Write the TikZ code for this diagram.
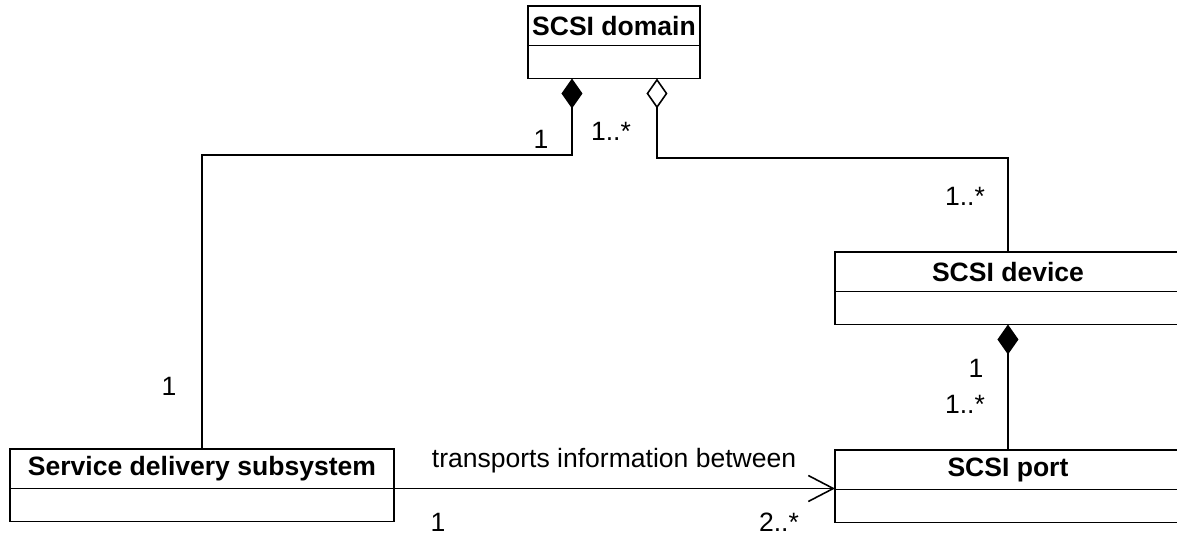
\documentclass[tikz,border=0pt]{standalone}
\usepackage{fontspec}
\setmainfont{Liberation Sans}
\usetikzlibrary{calc, arrows.meta, positioning}

\begin{document}
\begin{tikzpicture}[x=0.02cm, y=-0.02cm, line width=0.9pt,
        font=\fontsize{15.1}{18}\selectfont,
        classname/.style={draw, anchor=north west, outer sep=0pt, inner sep=0pt,
            minimum height=0.79cm, font=\fontsize{15.1}{18}\selectfont\bfseries},
        classbody/.style={draw, outer sep=0pt, inner sep=0pt, minimum height=0.66cm},
        composition/.style={{Diamond[length=0.6cm, width=0.42cm]}-},
        aggregation/.style={{Diamond[open, length=0.6cm, width=0.42cm]}-},
        association/.style={-{Straight Barb[length=0.5cm, width=0.52cm]}},
        mult/.style={anchor=base, inner sep=0pt}]
        \useasboundingbox (0,0) rectangle (1177,535);
        \clip (0,0) rectangle (1177,535);

        \node[classname, minimum width=3.44cm] (domain) at (528,6) {SCSI domain};
        \node[classbody, minimum width=3.44cm, below=0pt of domain] (domainBody) {};

        \node[classname, minimum width=6.92cm] (device) at (835,252) {SCSI device};
        \node[classbody, minimum width=6.92cm, below=0pt of device] (deviceBody) {};

        \node[classname, minimum width=7.68cm] (service) at (10,449) {Service delivery subsystem};
        \node[classbody, minimum width=7.68cm, below=0pt of service] (serviceBody) {};

        \node[classname, minimum width=6.92cm] (port) at (835,450) {SCSI port};
        \node[classbody, minimum width=6.92cm, below=0pt of port] (portBody) {};

        \coordinate (cCompPt) at ($(domainBody.south)+(-42,0)$);
        \coordinate (cAggrPt) at ($(domainBody.south)+(43,0)$);
        \coordinate (cLevelLPt) at (0,155);
        \coordinate (cLevelRPt) at (0,158);

        \draw[composition] (cCompPt) |- (service.north |- cLevelLPt) -- (service.north);
        \draw[aggregation] (cAggrPt) |- (device.north |- cLevelRPt) -- (device.north);
        \draw[composition] (deviceBody.south) -- (port.north);
        \draw[association] (service.south east) -- (service.south east -| port.west);

        \node[mult] (assocLabel) at (614,467) {transports information between};

        \foreach \x/\y/\t [count=\i] in
        {541/148/1, 611/140/1..*,
            965/205/1..*, 169/395/1,
            976/377/1, 965/413/1..*,
            438/531/1, 779/531/2..*
        }
        {
            \node[mult] (mult\i) at (\x,\y) {\t};
        };

\end{tikzpicture}
\end{document}
